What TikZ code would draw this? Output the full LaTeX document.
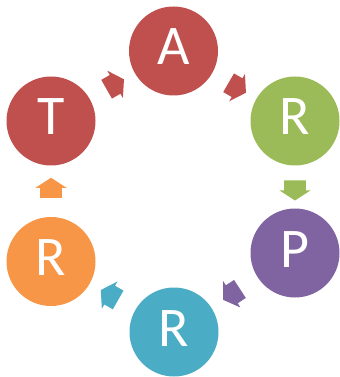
\documentclass[tikz,border=0pt]{standalone}
\usepackage{fontspec}
\setmainfont{Carlito}
\usetikzlibrary{shapes.arrows,calc}

\definecolor{redc}{HTML}{C0504D}
\definecolor{greenc}{HTML}{9BBB59}
\definecolor{purplec}{HTML}{8064A2}
\definecolor{bluec}{HTML}{4BACC6}
\definecolor{orangec}{HTML}{F79646}

\tikzset{
  letter/.style={circle, minimum size=66.75pt, inner sep=0pt, text=white,
    font=\fontsize{42}{42}\selectfont, text height=27pt, text depth=6pt},
  flow/.style={single arrow, minimum height=15pt, inner xsep=0pt, inner ysep=7.875pt,
    single arrow head extend=3.75pt, single arrow tip angle=114}
}

\begin{document}
\begin{tikzpicture}[x=0.75pt,y=-0.75pt]
\useasboundingbox (0,0) rectangle (339,377);

\node[letter, fill=redc] (A) at (173.5, 51) {A};
\node[letter, fill=greenc] (R1) at (295, 121) {R};
\node[letter, fill=purplec] (P) at (295, 253) {P};
\node[letter, fill=bluec] (R2) at (174, 332) {R};
\node[letter, fill=orangec] (R3) at (51, 261.5) {R};
\node[letter, fill=redc] (T) at (51, 121) {T};

\path let \p1=($(A)-(T)$) in node[flow, fill=redc, rotate={atan2(\y1,\x1)}] (ta) at ($(T)!0.5!(A)$) {};
\path let \p1=($(R1)-(A)$) in node[flow, fill=redc, rotate={atan2(\y1,\x1)}] (ar) at ($(A)!0.5!(R1)$) {};
\path let \p1=($(P)-(R1)$) in node[flow, fill=greenc, rotate={atan2(\y1,\x1)}] (rp) at ($(R1)!0.5!(P)$) {};
\path let \p1=($(R2)-(P)$) in node[flow, fill=purplec, rotate={atan2(\y1,\x1)}] (pr) at ($(P)!0.5!(R2)$) {};
\path let \p1=($(R3)-(R2)$) in node[flow, fill=bluec, rotate={atan2(\y1,\x1)}] (rr) at ($(R2)!0.5!(R3)$) {};
\path let \p1=($(T)-(R3)$) in node[flow, fill=orangec, rotate={atan2(\y1,\x1)}] (rt) at ($(R3)!0.5!(T)$) {};

\end{tikzpicture}
\end{document}
